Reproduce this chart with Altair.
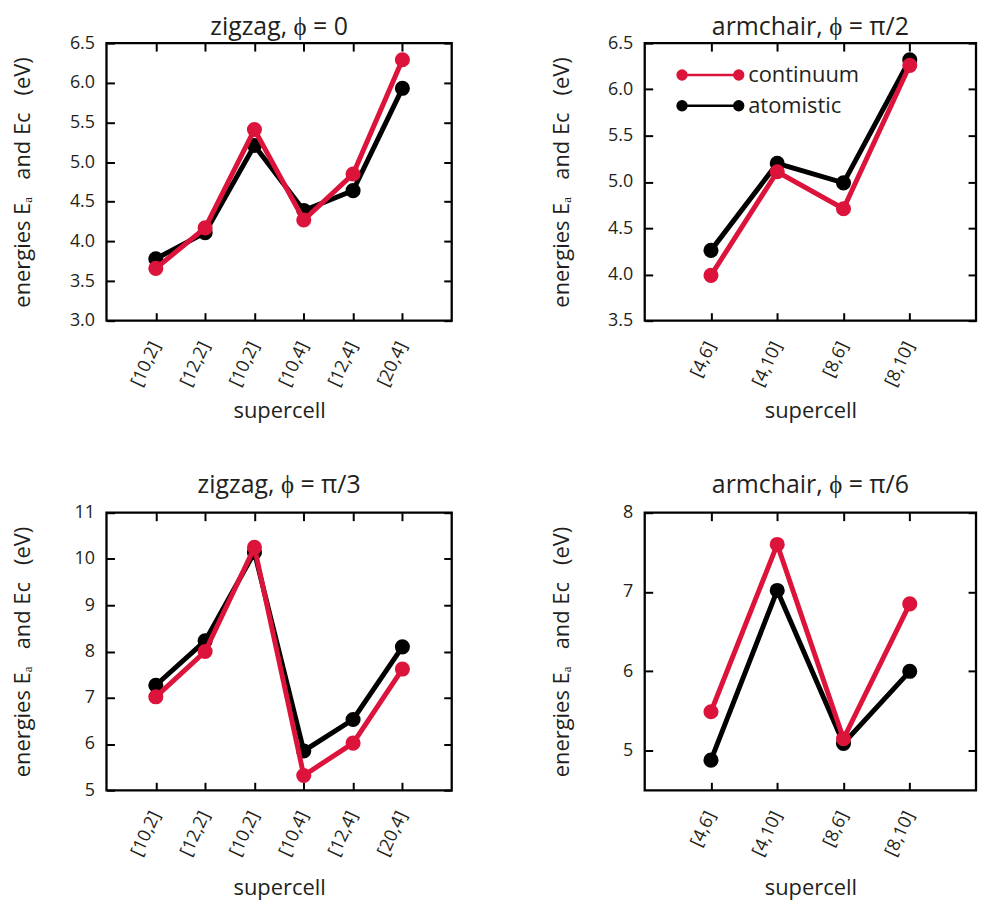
import altair as alt
import pandas as pd

FONT = "Open Sans"
RED = "#DC143C"
BLACK = "#000000"
TXT = "#231f20"

# ---- data ----
zz_cells = ["[10,2]", "[12,2]", "[10,2]", "[10,4]", "[12,4]", "[20,4]"]
ac_cells = ["[4,6]", "[4,10]", "[8,6]", "[8,10]"]

zz0_atomistic = [3.78, 4.11, 5.21, 4.39, 4.64, 5.93]
zz0_continuum = [3.66, 4.17, 5.41, 4.27, 4.85, 6.29]

ac2_atomistic = [4.26, 5.20, 4.99, 6.32]
ac2_continuum = [3.99, 5.11, 4.71, 6.26]

zz3_atomistic = [7.27, 8.23, 10.14, 5.85, 6.53, 8.10]
zz3_continuum = [7.02, 8.00, 10.25, 5.32, 6.02, 7.62]

ac6_atomistic = [4.88, 7.02, 5.09, 6.00]
ac6_continuum = [5.49, 7.60, 5.15, 6.85]

series_names = ["continuum", "atomistic"]
series_colors = [RED, BLACK]

YTITLE = "energies E\u2090\u00a0\u00a0 and Ec\u00a0\u00a0 (eV)"

LEGEND_PATH = ("M-3,0L3,0"
               "M-3.47,0a0.47,0.47 0 1,0 0.94,0a0.47,0.47 0 1,0 -0.94,0"
               "M2.53,0a0.47,0.47 0 1,0 0.94,0a0.47,0.47 0 1,0 -0.94,0")


def make_panel(title, cells, atom, cont, ydom, yvals, yfmt, width, height,
               title_offset, xtitle_y, show_legend=False):
    n = len(cells)
    rows = []
    for i, (c, a, k) in enumerate(zip(cells, atom, cont), start=1):
        rows.append({"pos": i, "cell": c, "series": "atomistic", "energy": a})
        rows.append({"pos": i, "cell": c, "series": "continuum", "energy": k})
    df = pd.DataFrame(rows)
    label_arr = "[" + ",".join(["''"] + ["'" + c + "'" for c in cells] + ["''"]) + "]"

    xscale = alt.Scale(domain=[0, n + 1], nice=False, zero=False)
    yscale = alt.Scale(domain=ydom, nice=False, zero=False)

    if show_legend:
        leg = alt.Legend(title=None, orient="none", legendX=55, legendY=21,
                         symbolType=LEGEND_PATH, symbolSize=361,
                         symbolStrokeWidth=2.5, labelOffset=27,
                         labelFont=FONT, labelFontSize=22, labelColor=TXT,
                         rowPadding=9)
    else:
        leg = None
    color = alt.Color("series:N",
                      scale=alt.Scale(domain=series_names, range=series_colors),
                      legend=leg)

    common = dict(tickSize=8, tickWidth=2, tickColor="black", offset=-8,
                  domain=False, grid=False)
    bottom_axis = alt.Axis(orient="bottom", values=list(range(1, n + 1)),
                           labelExpr=label_arr + "[datum.value]",
                           labelAngle=295, labelAlign="right",
                           labelBaseline="middle", labelPadding=22,
                           labelFont=FONT, labelFontSize=18, labelColor=TXT,
                           title="supercell", titleFont=FONT, titleFontSize=22,
                           titleFontWeight="normal", titleColor=TXT,
                           titleY=xtitle_y, titleBaseline="top", **common)
    left_axis = alt.Axis(orient="left", values=yvals, format=yfmt,
                         labelPadding=12, labelFont=FONT, labelFontSize=18,
                         labelColor=TXT, title=YTITLE, titleFont=FONT,
                         titleFontSize=22, titleFontWeight="normal",
                         titleColor=TXT, titleX=-80, **common)
    top_axis = alt.Axis(orient="top", values=list(range(1, n + 1)),
                        labels=False, title=None, **common)
    right_axis = alt.Axis(orient="right", values=yvals, labels=False,
                          title=None, **common)

    base = alt.Chart(df)
    a_src = base.transform_filter(alt.datum.series == "atomistic")
    c_src = base.transform_filter(alt.datum.series == "continuum")

    line_a = a_src.mark_line(strokeWidth=5).encode(
        x=alt.X("pos:Q", scale=xscale, axis=bottom_axis),
        y=alt.Y("energy:Q", scale=yscale, axis=left_axis),
        color=color)
    pts_a = a_src.mark_circle(size=230, opacity=1).encode(
        x=alt.X("pos:Q", scale=xscale, axis=None),
        y=alt.Y("energy:Q", scale=yscale, axis=None),
        color=color)
    line_c = c_src.mark_line(strokeWidth=5).encode(
        x=alt.X("pos:Q", scale=xscale, axis=top_axis),
        y=alt.Y("energy:Q", scale=yscale, axis=right_axis),
        color=color)
    pts_c = c_src.mark_circle(size=230, opacity=1).encode(
        x=alt.X("pos:Q", scale=xscale, axis=None),
        y=alt.Y("energy:Q", scale=yscale, axis=None),
        color=color)

    return alt.layer(line_a, pts_a, line_c, pts_c).resolve_axis(
        x="independent", y="independent").properties(
        width=width, height=height,
        title=alt.TitleParams(title, font=FONT, fontSize=25,
                              fontWeight="normal", color=TXT,
                              anchor="middle", frame="group",
                              offset=title_offset))


p1 = make_panel("zigzag, \u03d5 = 0", zz_cells, zz0_atomistic, zz0_continuum,
                [3.0, 6.5], [3.0, 3.5, 4.0, 4.5, 5.0, 5.5, 6.0, 6.5], ".1f",
                347, 279, -6, 88)
p2 = make_panel("armchair, \u03d5 = \u03c0/2", ac_cells, ac2_atomistic, ac2_continuum,
                [3.5, 6.5], [3.5, 4.0, 4.5, 5.0, 5.5, 6.0, 6.5], ".1f",
                333, 279, -6, 88, show_legend=True)
p3 = make_panel("zigzag, \u03d5 = \u03c0/3", zz_cells, zz3_atomistic, zz3_continuum,
                [5, 11], [5, 6, 7, 8, 9, 10, 11], "d",
                347, 279, 6, 96)
p4 = make_panel("armchair, \u03d5 = \u03c0/6", ac_cells, ac6_atomistic, ac6_continuum,
                [4.5, 8], [5, 6, 7, 8], "d",
                333, 279, 6, 96)

row1 = alt.hconcat(p1, p2, spacing=94).resolve_scale(color="independent")
row2 = alt.hconcat(p3, p4, spacing=94).resolve_scale(color="independent")

chart = alt.vconcat(row1, row2, spacing=48).resolve_scale(
    color="independent").properties(
    padding={"left": 2, "top": 3, "right": 0, "bottom": 0}
).configure(background="white").configure_view(stroke="black", strokeWidth=2.3)

chart.save("out.html", embed_options={"renderer": "svg", "actions": False})
